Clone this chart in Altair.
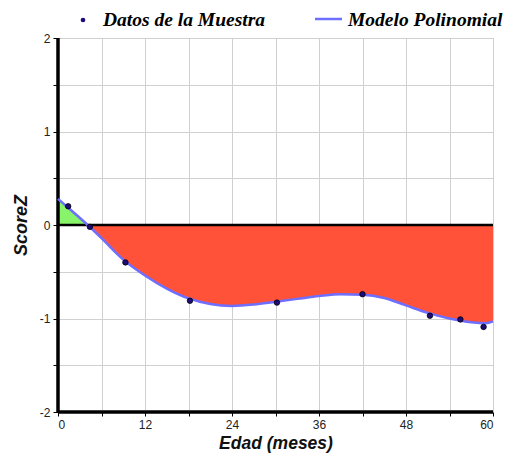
import altair as alt
import pandas as pd

# Sample data (Datos de la Muestra)
months = [1.4, 4.4, 9.3, 18.2, 30.2, 42.0, 51.3, 55.5, 58.7]
scores = [0.20, -0.02, -0.40, -0.81, -0.83, -0.74, -0.97, -1.01, -1.09]

# Polynomial model curve
curve_x = [0, 2, 4.1, 6, 9, 12, 15, 18, 21, 24, 27, 30, 33, 36, 39, 42, 45, 48, 51, 54, 57, 59, 60]
curve_y = [0.28, 0.145, 0.0, -0.14, -0.37, -0.54, -0.68, -0.785, -0.845, -0.865, -0.85, -0.82,
           -0.79, -0.76, -0.74, -0.745, -0.78, -0.86, -0.94, -1.00, -1.04, -1.05, -1.03]

x_ticks = list(range(0, 61, 6))
y_ticks = [-2, -1.5, -1, -0.5, 0, 0.5, 1, 1.5, 2]

pts = pd.DataFrame({"Edad": months, "Score": scores})
curve = pd.DataFrame({"Edad": curve_x, "Score": curve_y})
pos = curve[curve["Edad"] <= 4.1]
neg = curve[curve["Edad"] >= 4.1]
one = pd.DataFrame({"k": [0]})

xscale = alt.Scale(domain=[0, 60], nice=False, zero=False)
yscale = alt.Scale(domain=[-2, 2], nice=False)

xaxis = alt.Axis(values=x_ticks, labelExpr="datum.value % 12 == 0 ? '' + datum.value : ''",
                 title="Edad (meses)", domain=False, tickColor="#000", tickSize=4,
                 gridColor="#d0d0d0", labelFont="Liberation Sans", labelFontSize=12,
                 labelColor="#222", titleFont="Liberation Sans", titleFontSize=17.5,
                 titleFontStyle="italic", titleFontWeight="bold", titleColor="#111",
                 titlePadding=4, labelPadding=3)
yaxis = alt.Axis(values=y_ticks, labelExpr="datum.value % 1 == 0 ? '' + datum.value : ''",
                 title="ScoreZ", domain=False, tickColor="#000", tickSize=5,
                 gridColor="#d0d0d0", labelFont="Liberation Sans", labelFontSize=12,
                 labelColor="#222", titleFont="Liberation Sans", titleFontSize=18,
                 titleFontStyle="italic", titleFontWeight="bold", titleColor="#111",
                 titlePadding=9, labelPadding=3)

base_x = alt.X("Edad:Q", scale=xscale, axis=xaxis)
base_y = alt.Y("Score:Q", scale=yscale, axis=yaxis)

area_pos = alt.Chart(pos).mark_area(color="#88F46A", interpolate="monotone").encode(
    x=base_x, y=base_y, y2=alt.datum(0))
area_neg = alt.Chart(neg).mark_area(color="#FF5238", interpolate="monotone").encode(
    x=alt.X("Edad:Q", scale=xscale), y=alt.Y("Score:Q", scale=yscale), y2=alt.datum(0))

zero = alt.Chart(one).mark_rule(color="#000", strokeWidth=2.5).encode(y=alt.Y(datum=0, scale=yscale))
left = alt.Chart(one).mark_rule(color="#000", strokeWidth=3.5).encode(x=alt.X(datum=0, scale=xscale))
bottom = alt.Chart(one).mark_rule(color="#000", strokeWidth=3.5).encode(y=alt.Y(datum=-2, scale=yscale))

line = alt.Chart(curve).mark_line(color="#6E6EFF", strokeWidth=2.5, interpolate="monotone").encode(
    x=alt.X("Edad:Q", scale=xscale), y=alt.Y("Score:Q", scale=yscale))
points = alt.Chart(pts).mark_point(filled=True, color="#1E0A78", stroke="#000", strokeWidth=0.8,
                                   size=30, opacity=1).encode(
    x=alt.X("Edad:Q", scale=xscale), y=alt.Y("Score:Q", scale=yscale))

lg_font = dict(font="Liberation Serif", fontSize=19.5, fontStyle="italic", fontWeight="bold",
               color="#000", align="left", baseline="alphabetic")
lg_dot = alt.Chart(one).mark_point(filled=True, color="#1E0A78", size=22, opacity=1).encode(
    x=alt.value(25), y=alt.value(-18))
lg_t1 = alt.Chart(one).mark_text(**lg_font).encode(
    x=alt.value(45), y=alt.value(-12), text=alt.value("Datos de la Muestra"))
lg_line = alt.Chart(one).mark_rule(color="#6E6EFF", strokeWidth=2.5).encode(
    x=alt.value(257), x2=alt.value(284), y=alt.value(-19))
lg_t2 = alt.Chart(one).mark_text(**lg_font).encode(
    x=alt.value(290), y=alt.value(-12), text=alt.value("Modelo Polinomial"))

chart = alt.layer(area_pos, area_neg, zero, left, bottom, line, points,
                  lg_dot, lg_t1, lg_line, lg_t2).properties(
    width=435, height=374,
    autosize=alt.AutoSizeParams(type="none"),
    padding={"left": 50, "top": 30, "right": 12, "bottom": 41},
).configure_view(stroke=None).configure(background="white")

chart.save("out.html", embed_options={"renderer": "svg", "actions": False})
